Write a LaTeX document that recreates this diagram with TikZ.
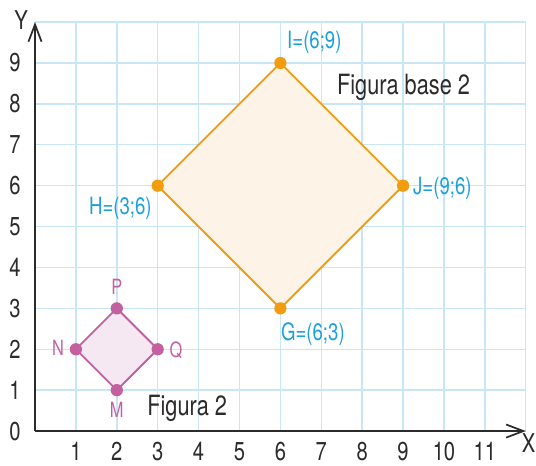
\documentclass[tikz,border=0pt]{standalone}
\usepackage{fontspec}
\setmainfont{TeX Gyre Heros}[FakeStretch=0.78]
\usetikzlibrary{arrows.meta}

\definecolor{gridblue}{RGB}{200,230,246}
\definecolor{axisgray}{RGB}{45,42,42}
\definecolor{baseorange}{RGB}{242,156,16}
\definecolor{basefill}{RGB}{253,243,230}
\definecolor{figpink}{RGB}{194,96,160}
\definecolor{figfill}{RGB}{246,232,243}
\definecolor{labelblue}{RGB}{28,160,220}

\begin{document}
\begin{tikzpicture}[
  axis/.style={draw=axisgray, line width=1.5pt, -{Straight Barb[length=4.2mm, width=3.2mm, line width=1.2pt]}},
  tick/.style={text=axisgray, font=\fontsize{18}{20}\selectfont},
  coordlabel/.style={text=labelblue, inner sep=0pt, font=\fontsize{16.6}{18}\selectfont},
  pinklabel/.style={text=figpink, inner sep=0pt, font=\fontsize{14.6}{16}\selectfont},
  title/.style={text=axisgray, inner sep=0pt, anchor=west, font=\fontsize{19.4}{21}\selectfont},
  basedot/.style={fill=baseorange},
  figdot/.style={fill=figpink}
]
\useasboundingbox (-0.856,-0.831) rectangle (12.25,10.54);

% grid and axes
\draw[gridblue, line width=1pt] (0,0) grid (12,10);
\coordinate (O) at (0,0);
\coordinate (xend) at (12,0);
\coordinate (yend) at (0,10);
\draw[axis] (O) -- (xend);
\draw[axis] (O) -- (yend);
\foreach \x in {1,...,11}
  \node[tick] (x\x) at (\x,-0.5) {\x};
\foreach \y in {0,...,9}
  \node[tick] (y\y) at (-0.49,\y) {\y};
\node[tick, anchor=east, inner sep=0pt] (xname) at (12.24,-0.3) {X};
\node[tick] (yname) at (-0.34,10.05) {Y};

% Figura base 2
\coordinate (G) at (6,3);
\coordinate (J) at (9,6);
\coordinate (I) at (6,9);
\coordinate (H) at (3,6);
\filldraw[draw=baseorange, fill=basefill, line width=1.3pt, line join=round] (G) -- (J) -- (I) -- (H) -- cycle;
\foreach \p in {G,H,I,J}
  \path[basedot] (\p) circle (0.15);
\node[coordlabel, anchor=west] (Ilab) at (6.16,9.51) {I=(6;9)};
\node[coordlabel, anchor=east] (Hlab) at (2.86,5.45) {H=(3;6)};
\node[coordlabel, anchor=west] (Jlab) at (9.24,5.94) {J=(9;6)};
\node[coordlabel, anchor=west] (Glab) at (6.01,2.37) {G=(6;3)};
\node[title] (basetitle) at (7.38,8.41) {Figura base 2};

% Figura 2
\coordinate (M) at (2,1);
\coordinate (Q) at (3,2);
\coordinate (P) at (2,3);
\coordinate (N) at (1,2);
\filldraw[draw=figpink, fill=figfill, line width=1.3pt, line join=round] (M) -- (Q) -- (P) -- (N) -- cycle;
\foreach \p in {M,N,P,Q}
  \path[figdot] (\p) circle (0.15);
\node[pinklabel] (Plab) at (2,3.52) {P};
\node[pinklabel] (Nlab) at (0.56,2.03) {N};
\node[pinklabel] (Qlab) at (3.45,1.98) {Q};
\node[pinklabel] (Mlab) at (2,0.51) {M};
\node[title] (figtitle) at (2.74,0.56) {Figura 2};
\end{tikzpicture}
\end{document}
